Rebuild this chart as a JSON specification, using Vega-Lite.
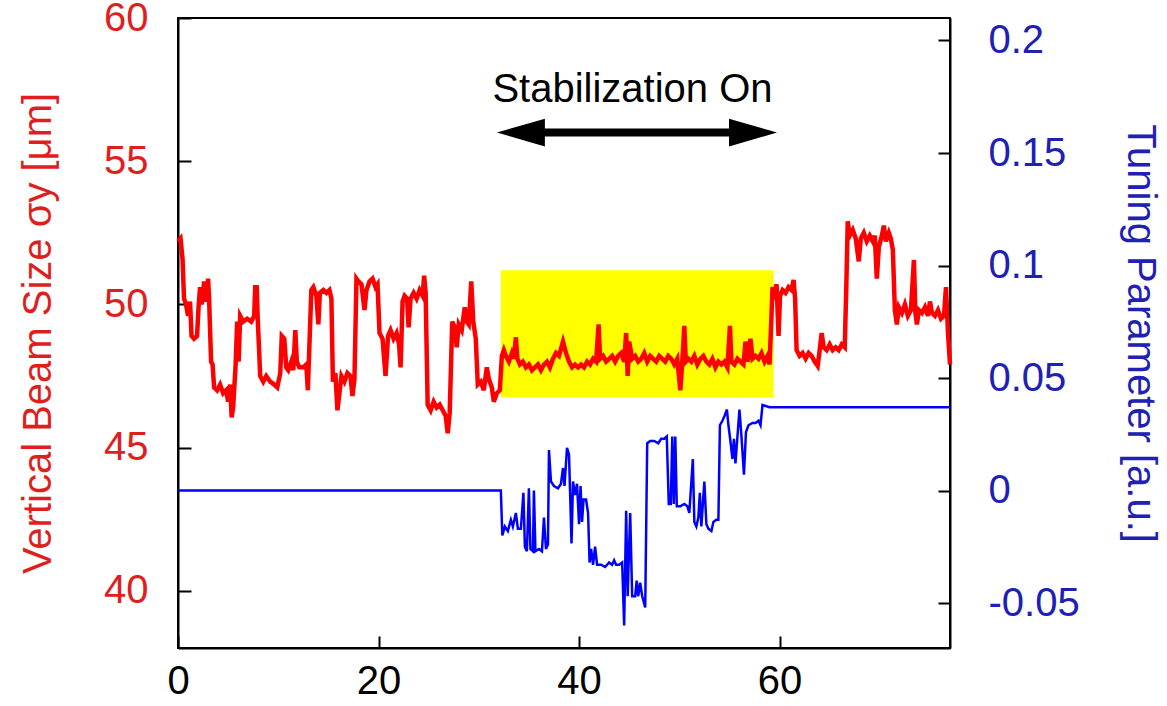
{
  "$schema": "https://vega.github.io/schema/vega-lite/v6.json",
  "width": 772,
  "height": 630,
  "autosize": {"type": "none"},
  "padding": {"left": 178, "top": 18, "right": 217, "bottom": 58},
  "background": "white",
  "config": {
    "view": {"stroke": "black", "strokeWidth": 2},
    "axis": {
      "grid": false,
      "domainColor": "black",
      "domainWidth": 2,
      "tickColor": "black",
      "tickWidth": 2,
      "tickSize": -12,
      "labelFont": "Liberation Sans",
      "labelFontSize": 40,
      "titleFont": "Liberation Sans",
      "titleFontSize": 40,
      "titleFontWeight": "normal"
    }
  },
  "datasets": {
    "red": [
      {"x":0.0,"y":52.2},{"x":0.25,"y":52.3},{"x":0.45,"y":51.6},{"x":0.6,"y":50.2},{"x":0.8,"y":50.0},{"x":1.0,"y":49.6},{"x":1.2,"y":50.1},{"x":1.35,"y":48.9},{"x":1.6,"y":48.8},{"x":1.9,"y":48.9},
      {"x":2.05,"y":49.9},{"x":2.2,"y":50.6},{"x":2.35,"y":50.0},{"x":2.5,"y":50.3},{"x":2.6,"y":50.8},{"x":2.75,"y":50.1},{"x":2.9,"y":50.3},{"x":3.0,"y":50.9},{"x":3.1,"y":50.2},{"x":3.3,"y":48.0},
      {"x":3.45,"y":47.9},{"x":3.6,"y":47.1},{"x":3.9,"y":47.0},{"x":4.2,"y":47.2},{"x":4.5,"y":46.9},{"x":4.8,"y":47.0},{"x":5.0,"y":46.6},{"x":5.2,"y":47.2},{"x":5.35,"y":46.05},{"x":5.5,"y":46.4},
      {"x":5.75,"y":47.9},{"x":5.9,"y":49.4},{"x":6.05,"y":48.0},{"x":6.2,"y":49.6},{"x":6.5,"y":49.4},{"x":6.9,"y":49.5},{"x":7.3,"y":49.4},{"x":7.6,"y":49.6},{"x":7.7,"y":50.6},{"x":7.85,"y":50.6},
      {"x":7.95,"y":49.5},{"x":8.2,"y":47.5},{"x":8.5,"y":47.3},{"x":8.8,"y":47.5},{"x":9.2,"y":47.3},{"x":9.6,"y":47.2},{"x":9.9,"y":47.1},{"x":10.2,"y":47.6},{"x":10.35,"y":48.9},{"x":10.6,"y":48.8},
      {"x":10.8,"y":47.8},{"x":11.0,"y":47.7},{"x":11.3,"y":48.0},{"x":11.5,"y":47.7},{"x":11.7,"y":49.1},{"x":11.85,"y":48.0},{"x":12.1,"y":47.8},{"x":12.5,"y":47.8},{"x":12.8,"y":47.9},{"x":12.95,"y":47.0},
      {"x":13.1,"y":48.5},{"x":13.3,"y":50.5},{"x":13.5,"y":50.6},{"x":13.8,"y":50.3},{"x":14.0,"y":49.3},{"x":14.15,"y":50.4},{"x":14.5,"y":50.5},{"x":14.8,"y":50.4},{"x":15.1,"y":50.5},{"x":15.3,"y":50.2},
      {"x":15.45,"y":47.3},{"x":15.7,"y":47.6},{"x":15.9,"y":46.3},{"x":16.1,"y":46.9},{"x":16.3,"y":47.5},{"x":16.6,"y":47.3},{"x":16.9,"y":47.6},{"x":17.2,"y":47.5},{"x":17.4,"y":46.8},{"x":17.6,"y":47.4},
      {"x":17.8,"y":50.9},{"x":18.0,"y":50.8},{"x":18.3,"y":50.7},{"x":18.6,"y":49.8},{"x":18.8,"y":50.5},{"x":19.1,"y":50.8},{"x":19.4,"y":50.9},{"x":19.7,"y":50.6},{"x":19.9,"y":50.7},{"x":20.1,"y":49.0},
      {"x":20.4,"y":48.8},{"x":20.7,"y":47.5},{"x":20.95,"y":48.9},{"x":21.2,"y":49.1},{"x":21.5,"y":48.8},{"x":21.8,"y":49.0},{"x":22.05,"y":48.6},{"x":22.2,"y":47.8},{"x":22.4,"y":50.1},{"x":22.6,"y":50.3},
      {"x":22.85,"y":50.2},{"x":23.0,"y":49.2},{"x":23.2,"y":50.2},{"x":23.5,"y":50.4},{"x":23.8,"y":50.2},{"x":24.1,"y":50.5},{"x":24.4,"y":50.3},{"x":24.55,"y":51.0},{"x":24.7,"y":50.4},{"x":24.9,"y":46.5},
      {"x":25.2,"y":46.3},{"x":25.5,"y":46.6},{"x":25.8,"y":46.4},{"x":26.1,"y":46.5},{"x":26.4,"y":46.3},{"x":26.7,"y":46.1},{"x":26.9,"y":45.5},{"x":27.1,"y":46.2},{"x":27.35,"y":49.4},{"x":27.6,"y":49.2},
      {"x":27.8,"y":48.5},{"x":28.0,"y":49.3},{"x":28.3,"y":49.1},{"x":28.6,"y":49.9},{"x":28.8,"y":49.4},{"x":29.0,"y":49.3},{"x":29.25,"y":50.8},{"x":29.45,"y":49.4},{"x":29.7,"y":48.8},{"x":29.9,"y":47.2},
      {"x":30.2,"y":47.3},{"x":30.5,"y":47.0},{"x":30.8,"y":47.8},{"x":31.0,"y":47.4},{"x":31.3,"y":47.1},{"x":31.5,"y":46.6},{"x":31.8,"y":46.9},{"x":32.1,"y":47.0},{"x":32.3,"y":48.2},{"x":32.5,"y":48.4},
      {"x":32.7,"y":48.2},{"x":33.0,"y":48.0},{"x":33.3,"y":48.3},{"x":33.5,"y":48.1},{"x":33.7,"y":48.85},{"x":33.85,"y":48.1},{"x":34.1,"y":47.9},{"x":34.4,"y":48.0},{"x":34.7,"y":47.8},{"x":35.0,"y":47.9},
      {"x":35.3,"y":47.7},{"x":35.6,"y":47.8},{"x":35.9,"y":47.9},{"x":36.2,"y":47.7},{"x":36.5,"y":47.9},{"x":36.8,"y":48.0},{"x":37.1,"y":47.8},{"x":37.4,"y":48.1},{"x":37.7,"y":48.3},{"x":38.0,"y":48.2},
      {"x":38.4,"y":48.7},{"x":38.7,"y":48.3},{"x":39.0,"y":48.0},{"x":39.3,"y":47.8},{"x":39.6,"y":47.9},{"x":39.9,"y":47.8},{"x":40.2,"y":47.9},{"x":40.5,"y":47.8},{"x":40.8,"y":48.0},{"x":41.1,"y":47.9},
      {"x":41.4,"y":48.1},{"x":41.7,"y":48.0},{"x":41.95,"y":49.3},{"x":42.1,"y":48.1},{"x":42.4,"y":48.2},{"x":42.7,"y":48.0},{"x":43.0,"y":48.1},{"x":43.3,"y":48.2},{"x":43.6,"y":48.0},{"x":43.9,"y":48.2},
      {"x":44.2,"y":48.3},{"x":44.5,"y":48.0},{"x":44.7,"y":49.0},{"x":44.85,"y":47.5},{"x":45.0,"y":48.7},{"x":45.3,"y":48.1},{"x":45.6,"y":48.2},{"x":45.9,"y":48.0},{"x":46.2,"y":48.1},{"x":46.5,"y":48.3},
      {"x":46.8,"y":48.0},{"x":47.1,"y":48.2},{"x":47.4,"y":48.1},{"x":47.7,"y":48.0},{"x":48.0,"y":48.2},{"x":48.3,"y":48.1},{"x":48.6,"y":48.0},{"x":48.9,"y":48.2},{"x":49.2,"y":48.1},{"x":49.5,"y":47.9},
      {"x":49.8,"y":48.1},{"x":50.1,"y":47.0},{"x":50.3,"y":48.0},{"x":50.5,"y":49.25},{"x":50.65,"y":48.0},{"x":50.9,"y":48.1},{"x":51.2,"y":48.0},{"x":51.5,"y":48.2},{"x":51.8,"y":47.9},{"x":52.1,"y":48.1},
      {"x":52.4,"y":48.2},{"x":52.7,"y":48.0},{"x":53.0,"y":47.9},{"x":53.3,"y":48.1},{"x":53.6,"y":47.8},{"x":53.9,"y":48.0},{"x":54.2,"y":47.9},{"x":54.5,"y":48.0},{"x":54.8,"y":47.8},{"x":55.05,"y":49.25},
      {"x":55.2,"y":48.0},{"x":55.5,"y":47.9},{"x":55.8,"y":48.1},{"x":56.1,"y":48.0},{"x":56.4,"y":47.9},{"x":56.6,"y":48.7},{"x":56.8,"y":48.0},{"x":57.1,"y":48.8},{"x":57.3,"y":48.1},{"x":57.6,"y":48.2},
      {"x":57.9,"y":48.1},{"x":58.2,"y":48.3},{"x":58.5,"y":48.0},{"x":58.8,"y":48.2},{"x":59.0,"y":47.9},{"x":59.15,"y":49.2},{"x":59.3,"y":50.6},{"x":59.5,"y":50.4},{"x":59.7,"y":50.7},{"x":59.9,"y":48.9},
      {"x":60.05,"y":50.3},{"x":60.3,"y":50.5},{"x":60.6,"y":50.4},{"x":60.9,"y":50.6},{"x":61.2,"y":50.5},{"x":61.4,"y":50.85},{"x":61.55,"y":50.2},{"x":61.7,"y":48.4},{"x":62.0,"y":48.2},{"x":62.3,"y":48.3},
      {"x":62.6,"y":48.1},{"x":62.9,"y":48.3},{"x":63.2,"y":48.2},{"x":63.5,"y":48.0},{"x":63.8,"y":47.85},{"x":64.0,"y":48.4},{"x":64.2,"y":49.0},{"x":64.4,"y":48.5},{"x":64.7,"y":48.4},{"x":65.0,"y":48.6},
      {"x":65.3,"y":48.4},{"x":65.6,"y":48.5},{"x":65.9,"y":48.4},{"x":66.2,"y":48.6},{"x":66.5,"y":48.5},{"x":66.65,"y":50.5},{"x":66.8,"y":52.9},{"x":67.0,"y":52.4},{"x":67.3,"y":52.6},{"x":67.6,"y":52.3},
      {"x":67.9,"y":51.5},{"x":68.1,"y":52.3},{"x":68.4,"y":52.5},{"x":68.7,"y":52.2},{"x":69.0,"y":52.4},{"x":69.3,"y":52.2},{"x":69.5,"y":52.4},{"x":69.7,"y":50.9},{"x":69.9,"y":52.0},{"x":70.2,"y":52.4},
      {"x":70.4,"y":52.75},{"x":70.6,"y":52.2},{"x":70.9,"y":52.5},{"x":71.1,"y":52.3},{"x":71.3,"y":51.9},{"x":71.5,"y":49.8},{"x":71.7,"y":49.3},{"x":71.9,"y":49.9},{"x":72.2,"y":49.7},{"x":72.5,"y":50.0},
      {"x":72.8,"y":49.6},{"x":73.1,"y":49.8},{"x":73.4,"y":51.55},{"x":73.55,"y":49.7},{"x":73.7,"y":49.3},{"x":73.9,"y":49.8},{"x":74.2,"y":49.7},{"x":74.5,"y":49.9},{"x":74.8,"y":49.6},{"x":75.0,"y":50.1},
      {"x":75.2,"y":49.7},{"x":75.5,"y":49.6},{"x":75.8,"y":49.8},{"x":76.1,"y":49.5},{"x":76.4,"y":49.6},{"x":76.6,"y":50.6},{"x":76.8,"y":49.0},{"x":77.0,"y":47.9}
    ],
    "blue": [
      {"x":0,"v":0},{"x":32.2,"v":0},{"x":32.35,"v":-0.02},{"x":32.6,"v":-0.016},{"x":32.9,"v":-0.018},{"x":33.2,"v":-0.013},{"x":33.4,"v":-0.016},{"x":33.7,"v":-0.01},{"x":33.9,"v":-0.017},{"x":34.2,"v":-0.017},
      {"x":34.45,"v":-0.001},{"x":34.6,"v":-0.025},{"x":34.8,"v":-0.027},{"x":35.0,"v":0.001},{"x":35.15,"v":-0.026},{"x":35.4,"v":-0.027},{"x":35.5,"v":0.0},{"x":35.65,"v":-0.027},{"x":36.0,"v":-0.026},{"x":36.3,"v":-0.027},
      {"x":36.5,"v":-0.012},{"x":36.7,"v":-0.026},{"x":36.9,"v":-0.024},{"x":37.0,"v":0.018},{"x":37.2,"v":0.004},{"x":37.5,"v":0.002},{"x":37.9,"v":0.001},{"x":38.2,"v":0.003},{"x":38.4,"v":0.01},{"x":38.55,"v":0.002},
      {"x":38.8,"v":0.019},{"x":39.0,"v":0.016},{"x":39.25,"v":-0.0235},{"x":39.4,"v":0.004},{"x":39.6,"v":-0.002},{"x":39.8,"v":0.003},{"x":40.0,"v":-0.015},{"x":40.15,"v":0.002},{"x":40.3,"v":-0.014},{"x":40.45,"v":-0.004},
      {"x":40.7,"v":-0.004},{"x":40.9,"v":-0.01},{"x":41.05,"v":-0.032},{"x":41.2,"v":-0.026},{"x":41.4,"v":-0.033},{"x":41.6,"v":-0.025},{"x":41.8,"v":-0.033},{"x":42.2,"v":-0.033},{"x":42.6,"v":-0.034},{"x":43.0,"v":-0.032},
      {"x":43.3,"v":-0.033},{"x":43.5,"v":-0.031},{"x":43.7,"v":-0.033},{"x":44.0,"v":-0.033},{"x":44.3,"v":-0.032},{"x":44.5,"v":-0.06},{"x":44.7,"v":-0.009},{"x":44.85,"v":-0.047},{"x":45.1,"v":-0.01},{"x":45.3,"v":-0.047},
      {"x":45.6,"v":-0.047},{"x":45.75,"v":-0.04},{"x":45.9,"v":-0.047},{"x":46.1,"v":-0.041},{"x":46.3,"v":-0.047},{"x":46.6,"v":-0.052},{"x":46.8,"v":0.021},{"x":47.1,"v":0.022},{"x":47.5,"v":0.022},{"x":47.9,"v":0.021},
      {"x":48.2,"v":0.023},{"x":48.5,"v":0.023},{"x":48.75,"v":0.024},{"x":48.95,"v":-0.006},{"x":49.15,"v":-0.006},{"x":49.3,"v":0.024},{"x":49.45,"v":-0.006},{"x":49.6,"v":0.024},{"x":49.75,"v":-0.007},{"x":50.1,"v":-0.007},
      {"x":50.5,"v":-0.006},{"x":50.8,"v":-0.007},{"x":51.0,"v":-0.01},{"x":51.35,"v":0.014},{"x":51.5,"v":-0.014},{"x":51.7,"v":-0.016},{"x":51.9,"v":-0.012},{"x":52.05,"v":-0.001},{"x":52.2,"v":-0.016},{"x":52.5,"v":0.004},
      {"x":52.7,"v":-0.015},{"x":52.9,"v":-0.017},{"x":53.2,"v":-0.018},{"x":53.4,"v":-0.014},{"x":53.7,"v":-0.013},{"x":53.9,"v":-0.013},{"x":54.05,"v":0.029},{"x":54.3,"v":0.031},{"x":54.5,"v":0.033},{"x":54.75,"v":0.036},
      {"x":54.9,"v":0.029},{"x":55.1,"v":0.022},{"x":55.3,"v":0.014},{"x":55.45,"v":0.023},{"x":55.6,"v":0.012},{"x":55.8,"v":0.024},{"x":56.0,"v":0.036},{"x":56.2,"v":0.024},{"x":56.45,"v":0.007},{"x":56.65,"v":0.026},
      {"x":56.9,"v":0.029},{"x":57.3,"v":0.03},{"x":57.6,"v":0.03},{"x":57.9,"v":0.031},{"x":58.1,"v":0.029},{"x":58.3,"v":0.038},{"x":59.0,"v":0.037},{"x":77.0,"v":0.037}
    ],
    "box": [{"x": 32.2, "x2": 59.4, "y": 46.76, "y2": 51.19}],
    "arrow": [{"x": 34.2, "x2": 57.3, "y": 56.0}],
    "heads": [{"x": 34.2, "y": 56.0, "dir": "left"}, {"x": 57.35, "y": 56.0, "dir": "right"}],
    "label": [{"x": 45.33, "y": 57.07, "text": "Stabilization On"}]
  },
  "encoding": {
    "x": {
      "field": "x", "type": "quantitative",
      "scale": {"domain": [0, 77], "nice": false, "zero": false},
      "axis": {
        "title": null,
        "values": [0, 20, 40, 60],
        "labelFont": "Liberation Sans",
        "labelFontSize": 40,
        "labelFlush": false,
        "labelPadding": 25,
        "labelDx": 2,
        "labelColor": "black",
        "tickSize": -12
      }
    }
  },
  "layer": [
    {
      "encoding": {
        "y": {
          "field": "y", "type": "quantitative",
          "scale": {"domain": [38, 60], "nice": false, "zero": false},
          "axis": {
            "orient": "left",
            "title": "Vertical Beam Size σy [μm]",
            "values": [40, 45, 50, 55, 60],
            "ticks": true,
            "tickSize": -13,
            "labelColor": "#e01e1e",
            "titleColor": "#e01e1e",
            "labelPadding": 43,
            "titlePadding": 45
          }
        }
      },
      "layer": [
        {
          "data": {"name": "box"},
          "mark": {"type": "rect", "color": "#ffff00"},
          "encoding": {"x2": {"field": "x2"}, "y2": {"field": "y2"}}
        },
        {
          "data": {"name": "red"},
          "mark": {"type": "line", "color": "#ff0000", "strokeWidth": 4.5}
        },
        {
          "data": {"name": "arrow"},
          "mark": {"type": "rule", "color": "black", "strokeWidth": 8},
          "encoding": {"x2": {"field": "x2"}}
        },
        {
          "data": {"name": "heads"},
          "mark": {"type": "point", "filled": true, "color": "black", "opacity": 1, "size": 2304},
          "encoding": {
            "shape": {
              "field": "dir", "type": "nominal",
              "scale": {"domain": ["left", "right"], "range": ["M -1 0 L 1 -0.58 L 1 0.58 Z", "M 1 0 L -1 -0.58 L -1 0.58 Z"]},
              "legend": null
            }
          }
        },
        {
          "data": {"name": "label"},
          "mark": {"type": "text", "font": "Liberation Sans", "fontSize": 40, "color": "black", "align": "center", "baseline": "alphabetic"},
          "encoding": {"text": {"field": "text"}}
        }
      ]
    },
    {
      "data": {"name": "blue"},
      "mark": {"type": "line", "color": "#0000ff", "strokeWidth": 2.5},
      "encoding": {
        "y": {
          "field": "v", "type": "quantitative",
          "scale": {"domain": [-0.07, 0.21], "nice": false, "zero": false},
          "axis": {
            "orient": "right",
            "title": "Tuning Parameter [a.u.]",
            "values": [-0.05, 0, 0.05, 0.1, 0.15, 0.2],
            "labelExpr": "'' + datum.value",
            "labelColor": "#2020b4",
            "titleColor": "#2020b4",
            "labelPadding": 50,
            "titlePadding": 40
          }
        }
      }
    }
  ],
  "resolve": {"scale": {"y": "independent"}}
}
